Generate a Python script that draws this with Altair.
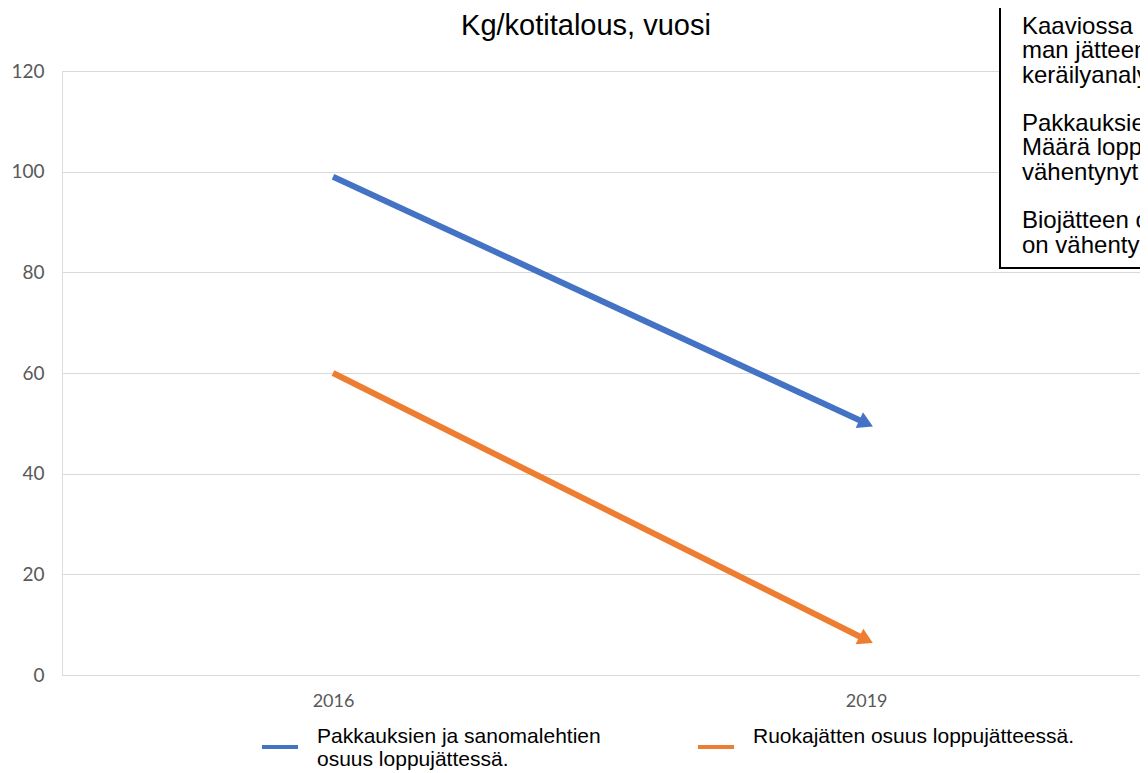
import math
import altair as alt
import pandas as pd

# ---- data ----
years = [2016, 2019]
series_names = [
    "Pakkauksien ja sanomalehtien osuus loppujättessä.",
    "Ruokajätten osuus loppujätteessä.",
]
packaging_values = [99, 50]
food_values = [60, 7]
series_colors = ["#4472C4", "#ED7D31"]
y_ticks = [0, 20, 40, 60, 80, 100, 120]
x_ticks = [2016, 2019]
title_text = "Kg/kotitalous, vuosi"
note_paragraphs = [
    ["Kaaviossa", "man jätteen", "keräilyanalyysin"],
    ["Pakkauksien", "Määrä loppujätteessä", "vähentynyt"],
    ["Biojätteen osuus", "on vähentynyt"],
]

# ---- layout constants ----
W, H = 1078, 604
x_domain = [2014.475, 2020.541]
y_domain = [0, 120]
px_per_year = W / (x_domain[1] - x_domain[0])
px_per_unit = H / (y_domain[1] - y_domain[0])

rows = []
ends = []
for name, vals in zip(series_names, [packaging_values, food_values]):
    for yr, v in zip(years, vals):
        rows.append({"series": name, "year": yr, "value": v})
    ang = math.degrees(math.atan2((vals[0] - vals[-1]) * px_per_unit,
                                  (years[-1] - years[0]) * px_per_year))
    ends.append({"series": name, "year": years[-1], "value": vals[-1], "angle": ang})
df = pd.DataFrame(rows)
df_end = pd.DataFrame(ends)

color = alt.Color(
    "series:N",
    scale=alt.Scale(domain=series_names, range=series_colors),
    legend=alt.Legend(
        title=None,
        orient="none",
        legendX=198,
        legendY=656,
        direction="horizontal",
        columns=2,
        columnPadding=89,
        symbolType="stroke",
        symbolStrokeWidth=4,
        symbolSize=1296,
        labelOffset=17,
        labelFont="Liberation Sans",
        labelFontSize=21,
        labelBaseline="bottom",
        labelColor="#000000",
        labelLimit=600,
        padding=0,
        labelExpr=(
            "datum.label == '" + series_names[0] + "' ? "
            "['Pakkauksien ja sanomalehtien', 'osuus loppujättessä.'] : [datum.label, ' ']"
        ),
    ),
)

x = alt.X(
    "year:Q",
    scale=alt.Scale(domain=x_domain, nice=False, zero=False),
    axis=alt.Axis(
        values=x_ticks, format="d", grid=False, domain=False, ticks=False,
        labelPadding=17, labelFont="Lato", labelFontSize=18, labelColor="#595959",
        title=None,
    ),
)
y = alt.Y(
    "value:Q",
    scale=alt.Scale(domain=y_domain, nice=False),
    axis=alt.Axis(
        values=y_ticks, grid=True, gridColor="#D9D9D9", gridWidth=1,
        domain=False, ticks=False, labelPadding=18, labelFont="Lato",
        labelFontSize=19, labelColor="#595959", title=None,
    ),
)

lines = alt.Chart(df).mark_line(strokeWidth=6, strokeCap="butt").encode(
    x=x, y=y, color=color
)

heads = alt.Chart(df_end).mark_point(
    shape="triangle-right", filled=True, size=300, opacity=1
).encode(
    x=alt.X("year:Q"),
    y=alt.Y("value:Q"),
    angle=alt.Angle("angle:Q", scale=None),
    color=alt.Color("series:N", legend=None),
)

title_mark = alt.Chart(pd.DataFrame({"t": [title_text]})).mark_text(
    font="Liberation Sans", fontSize=29, color="#000000", align="center",
    baseline="middle"
).encode(text="t:N", x=alt.value(524), y=alt.value(-45))

note_box = alt.Chart(pd.DataFrame({"note": ["box"]})).mark_rect(
    fill="white", stroke="black", strokeWidth=2
).encode(
    x=alt.value(938), x2=alt.value(1300), y=alt.value(-100), y2=alt.value(197)
)

line_h = 24.3
note_layers = []
for i, para in enumerate(note_paragraphs):
    note_layers.append(
        alt.Chart(pd.DataFrame({"p": [i]})).mark_text(
            text=para, align="left", baseline="top", font="Liberation Sans",
            fontSize=24, lineHeight=line_h, color="#000000"
        ).encode(x=alt.value(960), y=alt.value(-56 + i * 4 * line_h))
    )

chart = alt.layer(lines, heads, note_box, *note_layers, title_mark).properties(
    width=W,
    height=H,
    autosize=alt.AutoSizeParams(type="none"),
    padding={"left": 54, "top": 63, "right": 0, "bottom": 98},
).configure_view(strokeWidth=0).configure(background="white")

chart.save("out.html", embed_options={"renderer": "svg", "actions": False})
